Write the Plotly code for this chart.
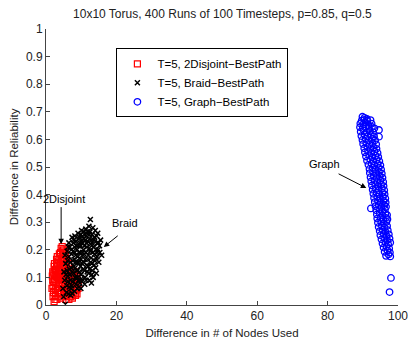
import plotly.graph_objects as go

# ---- data ----
red_x = [2.3, 2.7, 1.9, 2.2, 2.5, 2.0, 2.6, 1.8, 2.4, 2.9,
         3.1, 3.3, 2.8, 3.4, 3.0, 3.6, 3.2, 3.5, 3.7, 3.9,
         4.1, 4.3, 4.6, 4.0, 4.4, 4.8, 4.2, 4.5, 4.7, 4.1,
         5.0, 5.2, 4.9, 5.3, 5.1, 5.4, 5.0, 5.5, 5.7, 5.6,
         5.8, 6.0, 6.2, 6.1, 6.4, 6.3, 6.6, 6.8, 6.5, 7.0,
         7.2, 7.4, 7.1, 7.6, 7.8, 8.0, 8.2, 8.5, 8.7, 8.9,
         9.1, 8.4, 7.9, 7.5, 6.9, 3.8, 3.3, 2.1, 2.6, 4.6,
         5.9, 5.3, 4.4, 3.6, 2.9, 3.9, 4.9, 6.7, 7.3, 8.1,
         2.4, 3.0, 4.2, 5.6, 6.1,
         1.7, 2.0, 2.2, 2.8, 2.6, 3.1, 3.4, 3.8, 3.5, 3.2,
         4.0, 4.3, 4.5, 4.8, 4.3, 4.7, 5.2, 5.4, 5.8, 6.3,
         6.6, 7.0, 7.3, 7.7, 8.2, 8.6, 8.8, 9.2, 7.9, 6.9,
         2.3, 2.7, 1.9, 3.6, 4.1]
red_y = [0.012, 0.035, 0.090, 0.115, 0.128, 0.070, 0.055, 0.105, 0.095, 0.130,
         0.020, 0.060, 0.082, 0.112, 0.142, 0.160, 0.175, 0.090, 0.045, 0.125,
         0.190, 0.205, 0.212, 0.150, 0.170, 0.185, 0.105, 0.135, 0.070, 0.040,
         0.200, 0.165, 0.145, 0.120, 0.095, 0.080, 0.050, 0.180, 0.140, 0.110,
         0.060, 0.030, 0.085, 0.125, 0.150, 0.045, 0.100, 0.070, 0.020, 0.115,
         0.050, 0.090, 0.030, 0.125, 0.065, 0.040, 0.100, 0.075, 0.055, 0.090,
         0.060, 0.035, 0.110, 0.025, 0.040, 0.185, 0.145, 0.045, 0.020, 0.165,
         0.160, 0.035, 0.060, 0.075, 0.105, 0.095, 0.115, 0.130, 0.100, 0.120,
         0.150, 0.165, 0.025, 0.020, 0.050,
         0.060, 0.030, 0.085, 0.060, 0.110, 0.100, 0.030, 0.060, 0.125, 0.155,
         0.075, 0.090, 0.120, 0.095, 0.155, 0.195, 0.140, 0.190, 0.090, 0.070,
         0.040, 0.085, 0.060, 0.045, 0.065, 0.105, 0.040, 0.080, 0.085, 0.100,
         0.140, 0.125, 0.120, 0.105, 0.120]

black_x = [5.5, 5.0, 6.4, 7.4, 8.1, 7.0,
           4.8, 5.3, 5.1, 5.6, 5.4, 6.0, 5.9, 6.2, 6.6, 6.1,
           6.8, 7.2, 7.0, 6.9, 7.5, 7.3, 7.8, 7.7, 8.0, 7.9,
           8.3, 8.5, 8.2, 8.6, 8.8, 8.4, 8.9, 9.0, 9.2, 9.4,
           9.1, 9.5, 9.3, 9.7, 9.6, 9.8, 10.0, 10.2, 10.1, 10.4,
           10.3, 10.6, 10.5, 10.7, 10.9, 11.1, 11.0, 11.3, 11.5, 11.2,
           11.6, 11.4, 11.8, 11.9, 12.1, 12.3, 12.9, 12.2, 12.5, 12.4,
           12.7, 12.6, 12.8, 13.0, 13.2, 13.4, 12.6, 13.3, 13.1, 13.6,
           13.5, 13.8, 13.9, 14.1, 14.3, 14.0, 14.4, 14.6, 14.8, 14.5,
           15.0, 15.2, 15.5, 15.8, 15.3, 14.7,
           8.7, 9.9, 10.8, 11.7, 12.0, 9.4, 10.3, 8.1, 7.4, 6.5,
           5.8, 6.3, 6.7, 7.1, 7.6, 8.2, 8.7, 9.2, 9.8, 10.6,
           6.0, 6.5, 7.2, 7.7, 8.3, 8.9, 9.5, 9.9, 10.4, 10.9,
           11.3, 11.8, 12.3, 12.9, 13.4, 13.8, 14.2, 14.6, 14.9, 13.7,
           13.0, 12.4, 11.6, 11.1, 10.6, 10.1, 9.6, 8.9, 9.9, 11.4,
           12.7, 12.2, 11.5, 10.2, 9.0, 8.4, 7.8, 7.1, 6.6, 5.7,
           6.3, 7.9, 9.6, 11.9, 13.3, 14.2, 12.8, 10.8, 9.3, 8.6]
black_y = [0.003, 0.030, 0.040, 0.043, 0.050, 0.035,
           0.060, 0.090, 0.120, 0.150, 0.180, 0.195, 0.070, 0.105, 0.130, 0.160,
           0.210, 0.185, 0.155, 0.090, 0.120, 0.070, 0.225, 0.195, 0.165, 0.140,
           0.100, 0.075, 0.250, 0.230, 0.200, 0.180, 0.155, 0.125, 0.090, 0.065,
           0.260, 0.245, 0.215, 0.190, 0.170, 0.140, 0.110, 0.085, 0.270, 0.250,
           0.225, 0.200, 0.180, 0.155, 0.125, 0.100, 0.075, 0.275, 0.260, 0.235,
           0.210, 0.190, 0.165, 0.140, 0.115, 0.090, 0.080, 0.285, 0.265, 0.240,
           0.220, 0.195, 0.170, 0.150, 0.125, 0.100, 0.310, 0.280, 0.255, 0.235,
           0.210, 0.185, 0.160, 0.135, 0.115, 0.270, 0.250, 0.225, 0.200, 0.175,
           0.155, 0.215, 0.235, 0.180, 0.190, 0.260,
           0.125, 0.215, 0.240, 0.120, 0.180, 0.190, 0.150, 0.210, 0.245, 0.225,
           0.045, 0.085, 0.110, 0.135, 0.160, 0.190, 0.215, 0.240, 0.255, 0.265,
           0.125, 0.175, 0.200, 0.085, 0.135, 0.100, 0.120, 0.165, 0.190, 0.215,
           0.250, 0.265, 0.255, 0.235, 0.220, 0.245, 0.200, 0.190, 0.225, 0.145,
           0.110, 0.130, 0.145, 0.165, 0.130, 0.095, 0.080, 0.060, 0.060, 0.090,
           0.155, 0.205, 0.225, 0.235, 0.175, 0.155, 0.115, 0.060, 0.065, 0.110,
           0.210, 0.235, 0.225, 0.230, 0.190, 0.170, 0.200, 0.185, 0.155, 0.095]

blue_x = [89.9, 90.5, 91.2,
          89.7, 90.4, 91.3, 92.2,
          89.3, 90.1, 90.8, 91.6, 92.5,
          89.2, 90.0, 90.9, 91.8, 92.6, 93.3,
          89.4, 90.3, 91.1, 92.0, 92.9, 94.6,
          89.6, 90.5, 91.4, 92.3, 93.2, 94.6,
          89.9, 90.8, 91.7, 92.6, 93.5,
          90.1, 91.0, 91.9, 92.8, 93.8,
          90.4, 91.3, 92.2, 93.1, 93.9,
          90.6, 91.5, 92.4, 93.3, 94.2,
          90.9, 91.8, 92.7, 93.6, 94.4,
          91.2, 92.1, 93.0, 93.9, 94.7,
          91.6, 92.5, 93.3, 94.2, 95.0,
          91.9, 92.8, 93.6, 94.5, 95.2,
          92.0, 92.9, 93.8, 94.6, 95.4,
          92.2, 93.1, 94.0, 94.8, 95.6,
          92.4, 93.3, 94.2, 95.0, 95.8,
          92.6, 93.5, 94.4, 95.2, 95.9,
          92.8, 93.7, 94.5, 95.4, 96.1,
          93.0, 93.9, 94.7, 95.6, 96.2,
          93.2, 94.1, 94.9, 95.7, 96.4,
          93.4, 94.3, 95.1, 95.9, 96.5,
          93.6, 94.5, 95.3, 96.1, 96.6,
          92.3, 93.8, 94.7, 95.5, 96.3,
          94.0, 94.8, 95.6, 96.4, 96.9,
          94.1, 95.0, 95.8, 96.6, 97.0,
          94.3, 95.2, 96.0, 96.7,
          94.5, 95.4, 96.2, 96.9,
          94.8, 95.6, 96.4, 97.1,
          95.0, 95.9, 96.7, 97.4,
          95.3, 96.1, 96.9, 97.6,
          95.6, 96.4, 97.2, 97.8,
          95.9, 96.7, 97.5,
          96.2, 97.0, 97.7,
          96.6, 97.3, 97.8,
          98.0, 97.6]
blue_y = [0.682, 0.678, 0.674,
          0.668, 0.671, 0.666, 0.670,
          0.658, 0.655, 0.661, 0.652, 0.657,
          0.644, 0.641, 0.647, 0.639, 0.645, 0.640,
          0.628, 0.632, 0.625, 0.630, 0.626, 0.634,
          0.612, 0.618, 0.610, 0.616, 0.611, 0.610,
          0.598, 0.603, 0.595, 0.601, 0.597,
          0.583, 0.588, 0.580, 0.586, 0.582,
          0.568, 0.573, 0.565, 0.571, 0.566,
          0.553, 0.558, 0.550, 0.556, 0.551,
          0.538, 0.543, 0.535, 0.541, 0.536,
          0.523, 0.528, 0.520, 0.526, 0.521,
          0.508, 0.513, 0.505, 0.511, 0.506,
          0.493, 0.498, 0.490, 0.496, 0.491,
          0.478, 0.483, 0.475, 0.481, 0.476,
          0.463, 0.468, 0.460, 0.466, 0.461,
          0.448, 0.453, 0.445, 0.451, 0.446,
          0.433, 0.438, 0.430, 0.436, 0.431,
          0.418, 0.423, 0.415, 0.421, 0.416,
          0.403, 0.408, 0.400, 0.406, 0.401,
          0.388, 0.393, 0.385, 0.391, 0.386,
          0.373, 0.378, 0.370, 0.376, 0.371,
          0.358, 0.363, 0.355, 0.361, 0.356,
          0.350, 0.343, 0.348, 0.340, 0.346,
          0.328, 0.333, 0.325, 0.331, 0.326,
          0.313, 0.318, 0.310, 0.316, 0.311,
          0.298, 0.303, 0.295, 0.301,
          0.283, 0.288, 0.280, 0.286,
          0.268, 0.273, 0.265, 0.271,
          0.253, 0.258, 0.250, 0.256,
          0.238, 0.243, 0.235, 0.241,
          0.223, 0.228, 0.220, 0.226,
          0.208, 0.213, 0.205,
          0.193, 0.198, 0.190,
          0.178, 0.183, 0.176,
          0.098, 0.047]

x_range = [0, 100]
y_range = [0, 1]
x_dtick = 20
y_dtick = 0.1

FONT = "Liberation Sans, Arial, Helvetica, sans-serif"

fig = go.Figure()
fig.add_trace(go.Scatter(
    x=red_x, y=red_y, mode="markers", name="T=5, 2Disjoint\u2212BestPath",
    marker=dict(symbol="square-open", size=6, color="#ff0000",
                line=dict(width=1.2, color="#ff0000"))))
fig.add_trace(go.Scatter(
    x=black_x, y=black_y, mode="markers", name="T=5, Braid\u2212BestPath",
    marker=dict(symbol="x-thin-open", size=5, color="#000000",
                line=dict(width=1.5, color="#000000"))))
fig.add_trace(go.Scatter(
    x=blue_x, y=blue_y, mode="markers", name="T=5, Graph\u2212BestPath",
    marker=dict(symbol="circle-open", size=6.5, color="#0000ff",
                line=dict(width=1.3, color="#0000ff"))))

# text labels
for txt, tx, ty in [("2Disjoint", 5.1, 0.384), ("Braid", 22.4, 0.297), ("Graph", 79.0, 0.51)]:
    fig.add_annotation(x=tx, y=ty, text=txt, showarrow=False,
                       font=dict(family=FONT, size=11, color="#000000"))
# arrows
for hx, hy, tx, ty in [(4.3, 0.22, 4.3, 0.36), (16.4, 0.21, 20.8, 0.255), (91.0, 0.424, 82.7, 0.478)]:
    fig.add_annotation(x=hx, y=hy, ax=tx, ay=ty, xref="x", yref="y", axref="x", ayref="y",
                       text="", showarrow=True, arrowhead=2, arrowsize=1.1, arrowwidth=1,
                       arrowcolor="#000000")

axis_common = dict(showgrid=False, zeroline=False, showline=True, linecolor="#444444",
                   linewidth=1, ticks="inside", ticklen=4, tickcolor="#444444",
                   ticklabeloverflow="allow", automargin=False,
                   tickfont=dict(family=FONT, size=12, color="#222222"), mirror=False)

fig.update_layout(
    width=408, height=339,
    margin=dict(l=46, r=10, t=29, b=34),
    paper_bgcolor="white", plot_bgcolor="white",
    title=dict(text="10x10 Torus, 400 Runs of 100 Timesteps, p=0.85, q=0.5",
               x=0.545, xanchor="center", y=0.958, yanchor="middle",
               font=dict(family=FONT, size=12, color="#222222")),
    xaxis=dict(range=x_range, tickmode="linear", tick0=0, dtick=x_dtick,
               title=dict(text="Difference in # of Nodes Used", standoff=7,
                          font=dict(family=FONT, size=11.5, color="#222222")),
               **axis_common),
    yaxis=dict(range=y_range, tickmode="linear", tick0=0, dtick=y_dtick,
               title=dict(text="Difference in Reliability", standoff=4,
                          font=dict(family=FONT, size=11.5, color="#222222")),
               **axis_common),
    legend=dict(x=0.2, y=0.93, xanchor="left", yanchor="top",
                bgcolor="white", bordercolor="#000000", borderwidth=1,
                font=dict(family=FONT, size=11.5, color="#000000"),
                itemsizing="trace", tracegroupgap=0),
    showlegend=True,
)

fig.write_html("out.html")
